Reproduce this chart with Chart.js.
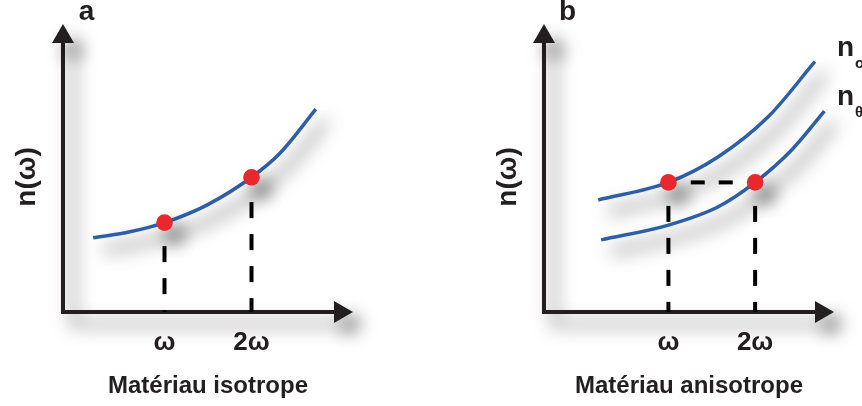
<!DOCTYPE html>
<html>
<head>
<meta charset="utf-8">
<script src="https://cdn.jsdelivr.net/npm/chart.js@4.4.1/dist/chart.umd.min.js"></script>
<style>
  body { margin: 0; background: #fff; width: 862px; height: 406px; position: relative; overflow: hidden; }
  canvas { position: absolute; top: 0; }
  #chartA { left: 0; }
  #chartB { left: 481px; }
</style>
</head>
<body>
<canvas id="chartA" width="431" height="406"></canvas>
<canvas id="chartB" width="381" height="406"></canvas>
<script>
// graduations de l'axe des fréquences
const tickLabels = ['ω', '2ω'];
const tickValuesA = [3.5, 6.5];
const tickValuesB = [4.29, 7.28];

// a : matériau isotrope, une seule courbe n(ω)
const curveAx = [1.04, 2.31, 3.5, 4.96, 6.5, 7.48, 8.72];
const curveAy = [2.75, 2.97, 3.31, 3.96, 4.99, 5.88, 7.51];
const dotsAy = [3.31, 4.99];
const dashTopAy = [2.44, 4.07];

// b : matériau anisotrope, indices ordinaire et extraordinaire
const curveBoX = [1.87, 4.29, 6.01, 7.73, 9.34];
const curveBoY = [4.15, 4.80, 5.75, 7.23, 9.27];
const curveBeX = [1.97, 4.29, 6.01, 7.28, 8.54, 9.67];
const curveBeY = [2.67, 3.22, 3.90, 4.80, 6.00, 7.44];
const dotsBy = [4.80, 4.80];
const dashTopBy = [3.93, 3.93];
const phaseMatchX = [5.06, 6.6];
const curveLabelsB = [['n', 'o'], ['n', 'θ']];

const ink = '#231f20';
const blue = '#2d5fa8';
const red = '#e8282d';
const fontFamily = "'Liberation Sans', Arial, sans-serif";
Chart.defaults.font.family = fontFamily;

const toPoints = (xs, ys) => xs.map((x, i) => ({ x: x, y: ys[i] }));

// ombre portée grise, décalée vers le bas à droite
function setShadow(ctx, strength) {
    ctx.shadowColor = 'rgba(0, 0, 0, ' + strength + ')';
    ctx.shadowBlur = 18;
    ctx.shadowOffsetX = 10;
    ctx.shadowOffsetY = 12;
}

// axes avec flèches, lettre du panneau, étiquettes des courbes
const decor = {
    id: 'decor',
    beforeDatasetsDraw(chart, args, opts) {
        const ctx = chart.ctx;
        const a = chart.chartArea;
        const x0 = a.left, y0 = a.bottom, yTip = a.top - 18, xTip = a.right;
        ctx.save();
        setShadow(ctx, 0.6);
        ctx.strokeStyle = ink;
        ctx.fillStyle = ink;
        ctx.lineWidth = 4;
        ctx.beginPath();
        ctx.moveTo(x0, yTip + 12);
        ctx.lineTo(x0, y0);
        ctx.lineTo(xTip - 12, y0);
        ctx.stroke();
        ctx.beginPath();
        ctx.moveTo(x0, yTip);
        ctx.lineTo(x0 - 11, yTip + 19);
        ctx.lineTo(x0 + 11, yTip + 19);
        ctx.closePath();
        ctx.fill();
        ctx.beginPath();
        ctx.moveTo(xTip, y0);
        ctx.lineTo(xTip - 19, y0 - 11);
        ctx.lineTo(xTip - 19, y0 + 11);
        ctx.closePath();
        ctx.fill();
        ctx.restore();
    },
    beforeDatasetDraw(chart, args) {
        const ctx = chart.ctx;
        const ds = chart.data.datasets[args.index];
        ctx.save();
        if (ds.shadow) setShadow(ctx, ds.shadow);
    },
    afterDatasetDraw(chart, args) {
        chart.ctx.restore();
    },
    afterDatasetsDraw(chart, args, opts) {
        const ctx = chart.ctx;
        const a = chart.chartArea;
        ctx.save();
        ctx.fillStyle = ink;
        ctx.textAlign = 'center';
        ctx.textBaseline = 'alphabetic';
        ctx.font = 'bold 28px ' + fontFamily;
        ctx.fillText(opts.letter, a.left + 23.5, 20);

        // étiquettes n_o / n_θ au bout des courbes
        (opts.curveLabels || []).forEach((lab, i) => {
            const meta = chart.getDatasetMeta(opts.curveIndex[i]);
            const last = meta.data[meta.data.length - 1];
            const bx = a.right + 3;
            const by = last.y - 6;
            ctx.textAlign = 'left';
            ctx.font = 'bold 28px ' + fontFamily;
            ctx.fillText(lab[0], bx, by);
            const w = ctx.measureText(lab[0]).width;
            ctx.font = 'bold 15px ' + fontFamily;
            ctx.fillText(lab[1], bx + w + 1, by + 12);
        });
        ctx.restore();
    }
};

function axisOptions(tickValues, xTitle) {
    return {
        x: {
            type: 'linear',
            min: 0,
            max: 10,
            grid: { display: false, drawTicks: false },
            border: { display: false },
            afterBuildTicks: (s) => { s.ticks = tickValues.map((v) => ({ value: v })); },
            afterFit: (s) => { s.height = 94; },
            ticks: {
                padding: 15,
                autoSkip: false,
                maxRotation: 0,
                color: ink,
                font: { size: 26, weight: 'bold' },
                callback: (v, i) => tickLabels[i]
            },
            title: {
                display: true,
                text: xTitle,
                color: ink,
                font: { size: 24, weight: 'bold' },
                padding: { top: 0, bottom: 5 }
            }
        },
        y: {
            type: 'linear',
            min: 0,
            max: 10,
            grid: { display: false, drawTicks: false },
            border: { display: false },
            ticks: { display: false },
            afterFit: (s) => { s.width = 63; },
            title: {
                display: true,
                text: 'n(ω)',
                color: ink,
                font: { size: 28, weight: 'bold' },
                padding: { top: 10, bottom: 0 }
            }
        }
    };
}

const curveStyle = {
    showLine: true,
    borderColor: blue,
    borderWidth: 3.5,
    pointRadius: 0,
    cubicInterpolationMode: 'monotone',
    fill: false,
    clip: false,
    shadow: 0.75
};
const dashStyle = {
    showLine: true,
    borderColor: '#000',
    borderWidth: 4,
    borderDash: [16, 16],
    pointRadius: 0,
    fill: false
};
const dotStyle = {
    showLine: false,
    pointRadius: 8.3,
    pointBackgroundColor: red,
    pointBorderWidth: 0,
    clip: false,
    shadow: 0.65
};

// panneau a
new Chart(document.getElementById('chartA'), {
    type: 'scatter',
    data: {
        datasets: [
            Object.assign({ label: 'points', data: toPoints(tickValuesA, dotsAy), order: 0 }, dotStyle),
            Object.assign({ label: 'n(ω)', data: toPoints(curveAx, curveAy), order: 1 }, curveStyle),
            Object.assign({ label: 'ω', data: toPoints([tickValuesA[0], tickValuesA[0]], [dashTopAy[0], 0]), order: 2 }, dashStyle),
            Object.assign({ label: '2ω', data: toPoints([tickValuesA[1], tickValuesA[1]], [dashTopAy[1], 0]), order: 2 }, dashStyle)
        ]
    },
    options: {
        responsive: false,
        animation: false,
        events: [],
        layout: { padding: { top: 42, right: 78, bottom: 0, left: 0 } },
        scales: axisOptions(tickValuesA, 'Matériau isotrope'),
        plugins: {
            legend: { display: false },
            tooltip: { enabled: false },
            decor: { letter: 'a' }
        }
    },
    plugins: [decor]
});

// panneau b
new Chart(document.getElementById('chartB'), {
    type: 'scatter',
    data: {
        datasets: [
            Object.assign({ label: 'points', data: toPoints(tickValuesB, dotsBy), order: 0 }, dotStyle),
            Object.assign({ label: 'n_o', data: toPoints(curveBoX, curveBoY), order: 1 }, curveStyle),
            Object.assign({ label: 'n_θ', data: toPoints(curveBeX, curveBeY), order: 1 }, curveStyle),
            Object.assign({ label: 'ω', data: toPoints([tickValuesB[0], tickValuesB[0]], [dashTopBy[0], 0]), order: 2 }, dashStyle),
            Object.assign({ label: '2ω', data: toPoints([tickValuesB[1], tickValuesB[1]], [dashTopBy[1], 0]), order: 2 }, dashStyle),
            Object.assign({ label: 'accord', data: toPoints(phaseMatchX, [dotsBy[0], dotsBy[1]]), order: 2 }, dashStyle, { borderDash: [14, 14] })
        ]
    },
    options: {
        responsive: false,
        animation: false,
        events: [],
        layout: { padding: { top: 42, right: 28, bottom: 0, left: 0 } },
        scales: axisOptions(tickValuesB, 'Matériau anisotrope'),
        plugins: {
            legend: { display: false },
            tooltip: { enabled: false },
            decor: { letter: 'b', curveLabels: curveLabelsB, curveIndex: [1, 2] }
        }
    },
    plugins: [decor]
});
</script>
</body>
</html>
